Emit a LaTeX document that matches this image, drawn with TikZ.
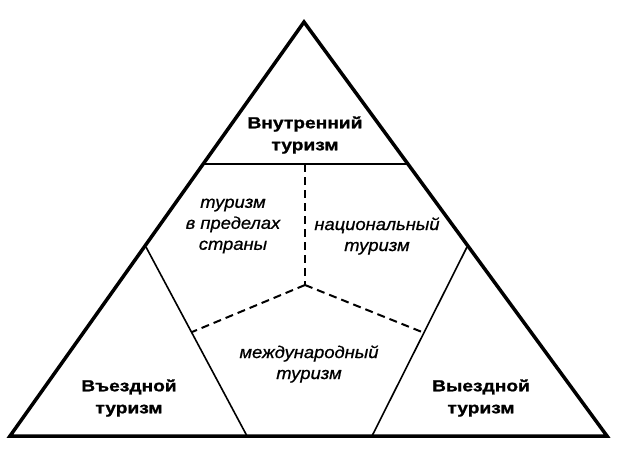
\documentclass[tikz,border=0pt]{standalone}
\usepackage{fontspec}
\setmainfont{Liberation Sans}
\newfontfamily\kindfont[FakeStretch=1.2, FakeBold=1.2]{Liberation Sans}
\newfontfamily\partfont[FakeStretch=1.08, FakeBold=0.8]{Liberation Sans}

\tikzset{
  outer/.style={line width=3.5pt, line join=miter},
  divide/.style={line width=1.6pt},
  split/.style={line width=2pt, dash pattern=on 8pt off 5pt},
  kind/.style={font=\kindfont\fontsize{16}{22}\selectfont\bfseries, align=center},
  part/.style={font=\partfont\fontsize{17}{21}\selectfont\itshape, align=center}
}

\begin{document}
\begin{tikzpicture}[x=1pt,y=-1pt]
\useasboundingbox (0,0) rectangle (623,453);
% corners
\coordinate (top) at (304,22);
\coordinate (bl) at (10,436);
\coordinate (br) at (607,436);
% dividing points
\coordinate (hl) at (203,164);
\coordinate (hr) at (408,164);
\coordinate (ll) at (146,247);
\coordinate (lb) at (247,436);
\coordinate (rr) at (467,247);
\coordinate (rb) at (372,436);
\coordinate (mid) at (305,285);
\coordinate (mtop) at (305,164);
\coordinate (ml) at (192,332);
\coordinate (mr) at (422,332);

\draw[outer] (top) -- (bl) -- (br) -- cycle;
\draw[divide, line width=2pt] (hl) -- (hr);
\draw[divide] (ll) -- (lb);
\draw[divide] (rr) -- (rb);
\draw[split] (mtop) -- (mid);
\draw[split] (mid) -- (ml);
\draw[split] (mid) -- (mr);

\node[kind] (inner) at (305,135) {Внутренний\\туризм};
\node[kind] (inbound) at (129,398) {Въездной\\туризм};
\node[kind] (outbound) at (481,398) {Выездной\\туризм};
\node[part] (within) at (233,226) {туризм\\в пределах\\страны};
\node[part] (national) at (377,236) {национальный\\туризм};
\node[part] (intl) at (309,364) {международный\\туризм};
\end{tikzpicture}
\end{document}
